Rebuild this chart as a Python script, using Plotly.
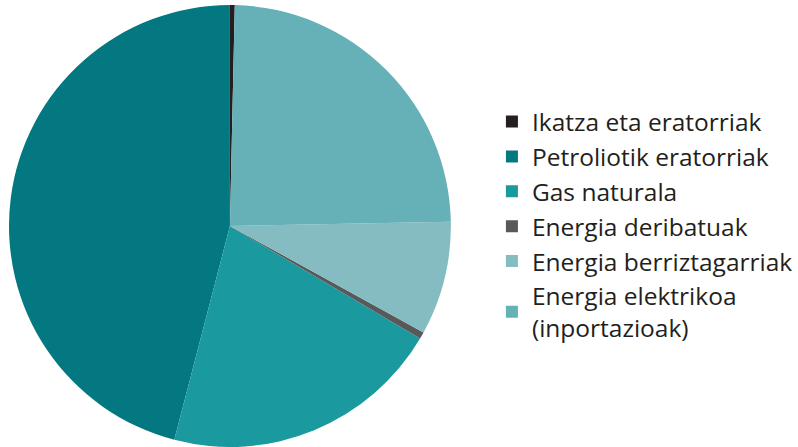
import plotly.graph_objects as go

labels = ["Ikatza eta eratorriak", "Petroliotik eratorriak", "Gas naturala",
          "Energia deribatuak", "Energia berriztagarriak",
          "Energia elektrikoa<br>(inportazioak)"]
values = [0.35, 45.95, 20.55, 0.5, 8.3, 24.35]
colors = ["#231f20", "#037880", "#1a9a9f", "#58595b", "#85bcc2", "#66b0b8"]

fig = go.Figure(go.Pie(
    labels=labels, values=values, sort=False, direction="counterclockwise",
    rotation=0, marker=dict(colors=colors, line=dict(width=0)),
    textinfo="none", hoverinfo="label+percent",
    domain=dict(x=[0.0113, 0.5664], y=[0.0, 1.0]),
))
fig.update_layout(
    width=798, height=447, margin=dict(l=0, r=0, t=5, b=0),
    paper_bgcolor="white", plot_bgcolor="white",
    font=dict(family="Open Sans", color="#231f20"),
    legend=dict(x=0.618, y=0.503, xanchor="left", yanchor="middle",
                font=dict(size=24.5, family="Open Sans", color="#231f20"),
                tracegroupgap=0, itemclick=False),
)
fig.write_html("out.html", config={"displayModeBar": False},
               post_script="document.body.style.margin='0';")
